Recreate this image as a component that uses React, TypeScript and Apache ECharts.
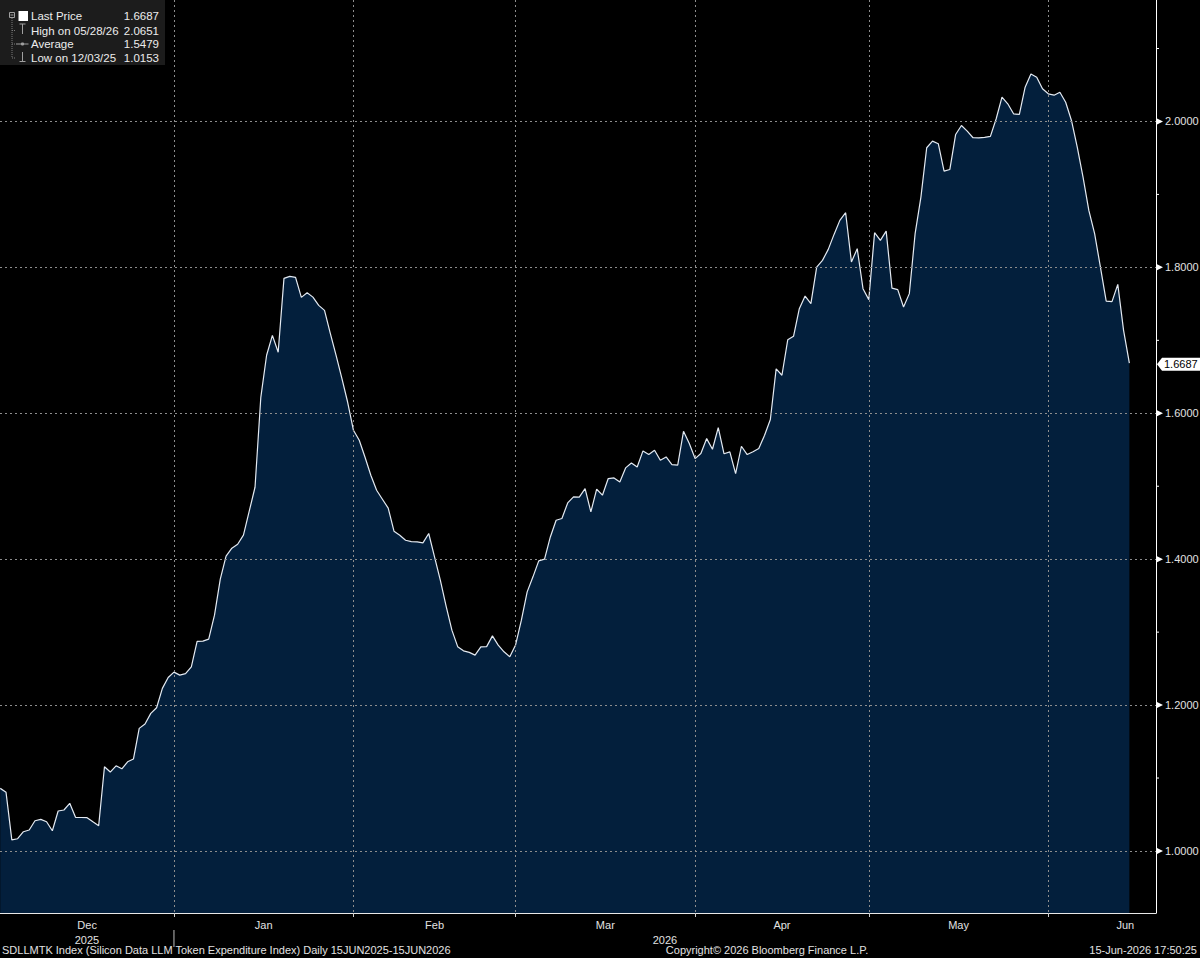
import React, { useEffect, useRef } from "react";
import * as echarts from "echarts";

const DAY = 86400000;
const START_Y = 2025;
const START_M = 11; // December (0-based)
const START_D = 1;

// Daily index values, 1 Dec 2025 .. 14 Jun 2026
const decValues = [
  1.0859, 1.0804, 1.0153, 1.0168, 1.0264, 1.0288, 1.0415, 1.0434, 1.0401, 1.0278,
  1.0548, 1.0562, 1.0653, 1.0462, 1.0459, 1.0456, 1.04, 1.0347, 1.1155, 1.1082,
  1.1168, 1.1127, 1.1223, 1.126, 1.1681, 1.174, 1.1886, 1.1963, 1.2229, 1.2379,
  1.2452,
];
const janValues = [
  1.2411, 1.2432, 1.2525, 1.2873, 1.2877, 1.2904, 1.3233, 1.3726, 1.4041, 1.4151,
  1.4205, 1.4329, 1.4658, 1.4986, 1.6219, 1.6795, 1.7068, 1.6836, 1.7849, 1.7877,
  1.7863, 1.7589, 1.7651, 1.7592, 1.7479, 1.7411, 1.7096, 1.6795, 1.6479, 1.6151,
  1.5767,
];
const febValues = [
  1.563, 1.5397, 1.5151, 1.4945, 1.4822, 1.4699, 1.4384, 1.4329, 1.426, 1.424,
  1.4237, 1.4223, 1.4352, 1.4032, 1.3712, 1.3356, 1.3027, 1.2801, 1.2744, 1.2722,
  1.2685, 1.2799, 1.2801, 1.2949, 1.2822, 1.273, 1.2662, 1.2825,
];
const marValues = [
  1.3164, 1.3552, 1.3758, 1.3977, 1.4, 1.4305, 1.4534, 1.4558, 1.4771, 1.4853,
  1.4851, 1.4968, 1.4648, 1.4959, 1.4877, 1.5105, 1.5114, 1.5059, 1.5251, 1.5319,
  1.5264, 1.5484, 1.5434, 1.5493, 1.5356, 1.5401, 1.5297, 1.5288, 1.5753, 1.5585,
  1.5379,
];
const aprValues = [
  1.5448, 1.5653, 1.5507, 1.5804, 1.5445, 1.547, 1.5174, 1.5548, 1.5434, 1.5473,
  1.5516, 1.5699, 1.5914, 1.661, 1.6521, 1.7007, 1.7055, 1.7434, 1.7607, 1.7503,
  1.8004, 1.8096, 1.8247, 1.8452, 1.8644, 1.8749, 1.8073, 1.8256, 1.7708, 1.7558,
];
const mayValues = [
  1.8475, 1.837, 1.8497, 1.7716, 1.7695, 1.7456, 1.764, 1.8462, 1.8963, 1.964,
  1.973, 1.9695, 1.9319, 1.9342, 1.9822, 1.9945, 1.9867, 1.9777, 1.9775, 1.9781,
  1.9795, 2.0037, 2.0333, 2.0242, 2.0105, 2.0096, 2.047, 2.0651, 2.0607, 2.0448,
  2.0379,
];
const junValues = [
  2.036, 2.0401, 2.0264, 2.0014, 1.9648, 1.9237, 1.8781, 1.8462, 1.8004, 1.7538,
  1.753, 1.7767, 1.7137, 1.6687,
];

// Axis ticks / labels
const yTickValues = [1.0, 1.2, 1.4, 1.6, 1.8, 2.0];
const yMinorTickValues = [1.1, 1.3, 1.5, 1.7, 1.9, 2.1];
const monthNames = ["Dec", "Jan", "Feb", "Mar", "Apr", "May", "Jun"];
const monthEndDates: [number, number, number][] = [
  [2025, 11, 31], [2026, 0, 31], [2026, 1, 28], [2026, 2, 31], [2026, 3, 30], [2026, 4, 31],
];
const yearNames = ["2025", "2026"];

// Legend texts
const legendLabels = ["Last Price", "High on 05/28/26", "Average", "Low on 12/03/25"];
const legendValues = ["1.6687", "2.0651", "1.5479", "1.0153"];

const footerLeft = "SDLLMTK Index (Silicon Data LLM Token Expenditure Index) Daily 15JUN2025-15JUN2026";
const footerCenter = "Copyright\u00A9 2026 Bloomberg Finance L.P.";
const footerRight = "15-Jun-2026 17:50:25";

// layout constants (day offsets of the axis range and month label centres)
const AXIS_MIN_OFFSET = -0.043;
const AXIS_MAX_OFFSET = 199.6;
const monthLabelOffsets = [15, 45.5, 75, 104.5, 135, 165.5, 194.3];

const FONT = "'Liberation Sans', Arial, sans-serif";
const TEXT_COLOR = "#e2e2e2";

export default function App() {
  const ref = useRef<HTMLDivElement>(null);

  useEffect(() => {
    document.body.style.margin = "0";
    document.body.style.background = "#000";
    const el = ref.current;
    if (!el) return;
    const chart = echarts.init(el, null, { renderer: "svg" });

    const values = [
      ...decValues, ...janValues, ...febValues, ...marValues,
      ...aprValues, ...mayValues, ...junValues,
    ];
    const t0 = new Date(START_Y, START_M, START_D).getTime();
    const data = values.map((v, i) => [new Date(START_Y, START_M, START_D + i).getTime(), v]);
    const xMin = t0 + AXIS_MIN_OFFSET * DAY;
    const xMax = t0 + AXIS_MAX_OFFSET * DAY;
    const monthEnds = monthEndDates.map(([y, m, d]) => new Date(y, m, d).getTime());
    const labelTs = monthLabelOffsets.map((o) => t0 + o * DAY);

    const gridLineStyle = { color: "#8d8d8d", type: [2, 3] as any, width: 1 };

    chart.setOption({
      animation: false,
      backgroundColor: "#000",
      textStyle: { fontFamily: FONT },
      grid: { left: 0, right: 44, top: 0, bottom: 45, containLabel: false, outerBoundsMode: "none" } as any,
      xAxis: {
        type: "value",
        min: xMin,
        max: xMax,
        z: 3,
        axisLine: { show: true, lineStyle: { color: "#e8e8e8", width: 1 } },
        axisTick: { show: true, length: 4, customValues: monthEnds, lineStyle: { color: "#cfcfcf" } },
        splitLine: { show: true, lineStyle: gridLineStyle },
        axisLabel: {
          show: true,
          customValues: labelTs,
          color: TEXT_COLOR,
          fontSize: 11,
          fontFamily: FONT,
          margin: 6,
          formatter: (val: number) => {
            let best = 0;
            let bd = Infinity;
            labelTs.forEach((t, i) => {
              const d = Math.abs(t - val);
              if (d < bd) { bd = d; best = i; }
            });
            return monthNames[best];
          },
        },
      },
      yAxis: {
        type: "value",
        position: "right",
        min: 0.915,
        max: 2.1665,
        z: 3,
        axisLine: { show: true, lineStyle: { color: "#ffffff", width: 1 } },
        axisTick: { show: false, customValues: yTickValues },
        splitLine: { show: true, lineStyle: gridLineStyle },
        axisLabel: {
          show: true,
          customValues: yTickValues,
          formatter: (v: number) => v.toFixed(4),
          color: TEXT_COLOR,
          fontSize: 11,
          fontFamily: FONT,
          margin: 9,
        },
      },
      series: [
        {
          type: "line",
          data,
          symbol: "none",
          showSymbol: false,
          lineStyle: { color: "#e4eaf2", width: 1.2 },
          areaStyle: { color: "#031f3c", opacity: 1, origin: "start" },
          z: 2,
        },
      ],
    });

    const P = (t: number, v: number) =>
      chart.convertToPixel({ xAxisIndex: 0, yAxisIndex: 0 }, [t, v]) as number[];
    const W = chart.getWidth();
    const axisX = P(xMax, 1)[0];
    const axisY = P(xMin, 0.915)[1];
    const gfx: any[] = [];

    const txt = (text: string, x: number, y: number, align: string, color = TEXT_COLOR, size = 11) => ({
      type: "text",
      x,
      y,
      silent: true,
      style: {
        text,
        fill: color,
        fontSize: size,
        fontFamily: FONT,
        align,
        textAlign: align,
        verticalAlign: "middle",
        textVerticalAlign: "middle",
      },
    });

    // y-axis major tick arrows and minor ticks
    yTickValues.forEach((v) => {
      const y = P(xMax, v)[1];
      gfx.push({
        type: "polygon",
        silent: true,
        shape: { points: [[axisX + 1, y - 3], [axisX + 7, y], [axisX + 1, y + 3]] },
        style: { fill: "#ffffff" },
      });
    });
    yMinorTickValues.forEach((v) => {
      const y = P(xMax, v)[1];
      gfx.push({
        type: "line",
        silent: true,
        shape: { x1: axisX, y1: y, x2: axisX + 3, y2: y },
        style: { stroke: "#ffffff", lineWidth: 1 },
      });
    });

    // last price tag
    const last = values[values.length - 1];
    const ly = P(xMax, last)[1] + 1;
    gfx.push({
      type: "polygon",
      silent: true,
      shape: {
        points: [
          [axisX + 1, ly], [axisX + 6, ly - 6.5], [W, ly - 6.5], [W, ly + 6.5], [axisX + 6, ly + 6.5],
        ],
      },
      style: { fill: "#ffffff" },
    });
    gfx.push(txt(last.toFixed(4), axisX + 8, ly, "left", "#000000", 11));

    // year row under month labels
    const xDecEnd = P(monthEnds[0], 1)[0];
    const xStart = P(xMin, 1)[0];
    gfx.push(txt(yearNames[0], (xStart + xDecEnd) / 2, axisY + 27, "center"));
    gfx.push(txt(yearNames[1], (xDecEnd + axisX) / 2, axisY + 27, "center"));
    gfx.push({
      type: "line",
      silent: true,
      shape: { x1: xDecEnd, y1: axisY + 17, x2: xDecEnd, y2: axisY + 34 },
      style: { stroke: "#bdbdbd", lineWidth: 1 },
    });

    // footer
    gfx.push(txt(footerLeft, 2, 950, "left"));
    gfx.push(txt(footerCenter, 767, 950, "center"));
    gfx.push(txt(footerRight, W - 3, 950, "right"));

    // legend box
    const rowY = [16, 30.5, 44, 58];
    const legendStroke = "#a0a0a0";
    gfx.push({ type: "rect", silent: true, shape: { x: 0, y: 0, width: 165, height: 65 }, style: { fill: "#1c1c1c" } });
    gfx.push({ type: "rect", silent: true, shape: { x: 9.5, y: 12.5, width: 5, height: 5 }, style: { fill: "none", stroke: legendStroke, lineWidth: 1 } });
    gfx.push({ type: "line", silent: true, shape: { x1: 10.5, y1: 15, x2: 13.5, y2: 15 }, style: { stroke: legendStroke, lineWidth: 1 } });
    gfx.push({ type: "line", silent: true, shape: { x1: 12, y1: 18, x2: 12, y2: 58 }, style: { stroke: "#7a7a7a", lineWidth: 1, lineDash: [1, 1] } });
    [30.5, 44, 58].forEach((y) => {
      gfx.push({ type: "line", silent: true, shape: { x1: 12, y1: y, x2: 16, y2: y }, style: { stroke: "#7a7a7a", lineWidth: 1, lineDash: [1, 1] } });
    });
    gfx.push({ type: "rect", silent: true, shape: { x: 18.5, y: 11, width: 9.5, height: 10 }, style: { fill: "#ffffff" } });
    // high icon
    gfx.push({ type: "line", silent: true, shape: { x1: 19.5, y1: 24, x2: 25.5, y2: 24 }, style: { stroke: legendStroke, lineWidth: 1 } });
    gfx.push({ type: "line", silent: true, shape: { x1: 22.5, y1: 24, x2: 22.5, y2: 34 }, style: { stroke: legendStroke, lineWidth: 1 } });
    // average icon
    gfx.push({ type: "line", silent: true, shape: { x1: 16, y1: 44, x2: 28.5, y2: 44 }, style: { stroke: legendStroke, lineWidth: 1 } });
    gfx.push({ type: "circle", silent: true, shape: { cx: 22.5, cy: 44, r: 1.6 }, style: { fill: legendStroke } });
    // low icon
    gfx.push({ type: "line", silent: true, shape: { x1: 22.5, y1: 52, x2: 22.5, y2: 61.5 }, style: { stroke: legendStroke, lineWidth: 1 } });
    gfx.push({ type: "line", silent: true, shape: { x1: 19.5, y1: 61.5, x2: 25.5, y2: 61.5 }, style: { stroke: legendStroke, lineWidth: 1 } });
    legendLabels.forEach((lab, i) => {
      gfx.push(txt(lab, 31, rowY[i], "left", "#ececec", 11.5));
      gfx.push(txt(legendValues[i], 159, rowY[i], "right", "#ececec", 11.5));
    });

    chart.setOption({ graphic: gfx });

    return () => {
      chart.dispose();
    };
  }, []);

  return <div ref={ref} style={{ width: 1200, height: 958 }} />;
}
